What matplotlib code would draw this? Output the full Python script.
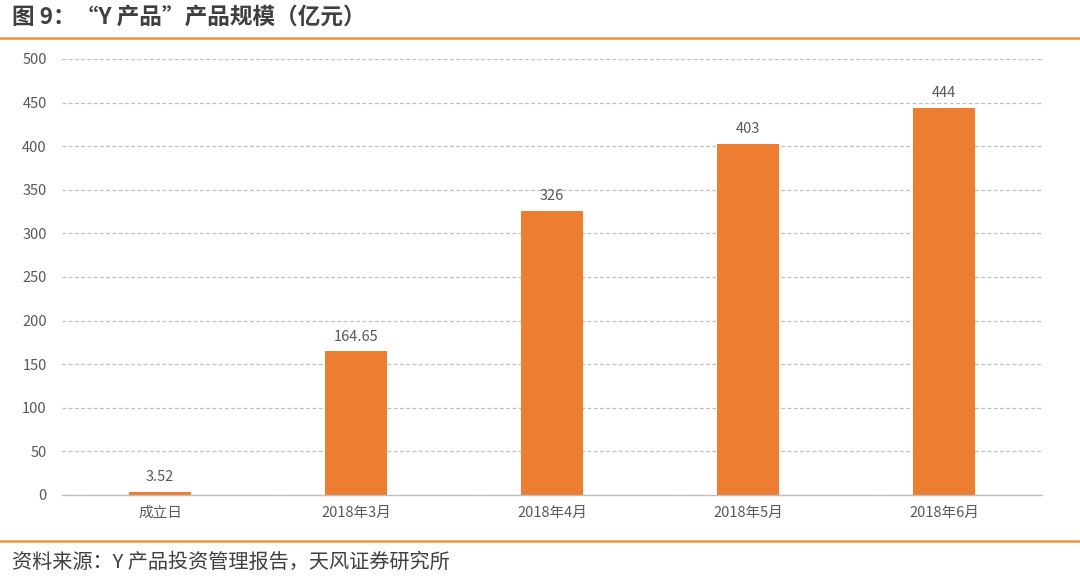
import matplotlib
matplotlib.use("Agg")
import matplotlib.pyplot as plt
from matplotlib.lines import Line2D

plt.rcParams['font.family'] = ['Noto Sans CJK SC', 'DejaVu Sans']

categories = ["成立日", "2018年3月", "2018年4月", "2018年5月", "2018年6月"]
values = [3.52, 164.65, 326, 403, 444]
labels = ["3.52", "164.65", "326", "403", "444"]
yticks = [0, 50, 100, 150, 200, 250, 300, 350, 400, 450, 500]

title = "图 9：“Y 产品”产品规模（亿元）"
source = "资料来源：Y 产品投资管理报告，天风证券研究所"

fig = plt.figure(figsize=(10.8, 5.78), dpi=100)
ax = fig.add_axes([62/1080, 83/578, 980/1080, 436/578])

x = list(range(len(categories)))
ax.bar(x, values, width=0.315, color="#ED7D31", zorder=3)
for xi, v, lab in zip(x, values, labels):
    ax.text(xi, v + 9, lab, ha="center", va="bottom", fontsize=10.5, color="#595959")

ax.set_xlim(-0.5, len(categories) - 0.5)
ax.set_ylim(0, 500)
ax.set_yticks(yticks)
ax.set_xticks(x)
ax.set_xticklabels(categories)
ax.tick_params(axis="both", length=0, labelsize=10.5, labelcolor="#595959")
ax.tick_params(axis="y", pad=11)
ax.tick_params(axis="x", pad=8)
ax.yaxis.grid(True, linestyle=(0, (3, 2)), color="#BFBFBF", linewidth=0.9)
ax.set_axisbelow(True)
for s in ["top", "right", "left"]:
    ax.spines[s].set_visible(False)
ax.spines["bottom"].set_color("#BFBFBF")
ax.spines["bottom"].set_linewidth(1.0)
ax.spines["bottom"].set_zorder(4)

fig.text(12/1080, 1 - 17/578, title, fontsize=16.3, fontweight="bold", color="#3F3F3F", va="center", ha="left")
fig.add_artist(Line2D([0, 1], [1 - 38/578, 1 - 38/578], color="#F0963C", linewidth=1.8, transform=fig.transFigure))
fig.add_artist(Line2D([0, 1], [1 - 541/578, 1 - 541/578], color="#F0963C", linewidth=1.8, transform=fig.transFigure))
fig.text(12/1080, 1 - 562/578, source, fontsize=14.5, color="#3F3F3F", va="center", ha="left")

fig.savefig("out.png", dpi=100)
